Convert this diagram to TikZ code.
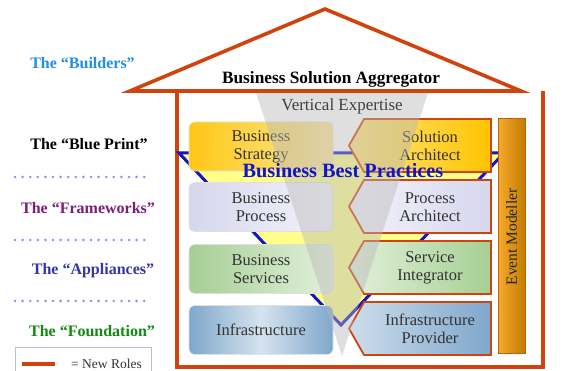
\documentclass[tikz,border=0pt]{standalone}
\usepackage{fontspec}
\setmainfont{Liberation Serif}
\definecolor{hred}{HTML}{D0430F}
\definecolor{bbblue}{HTML}{1414C8}
\definecolor{bbyel}{HTML}{FFFF8A}
\definecolor{dotc}{HTML}{A680F5}
\begin{document}
\begin{tikzpicture}[x=1pt,y=-1pt,
  lbox/.style={rounded corners=6pt, minimum width=144pt, minimum height=49pt, draw=black!12, line width=0.6pt, align=center, font=\fontsize{16.5}{18}\selectfont, text=black!80},
  rbox/.style={draw=hred, line width=1.8pt, line join=miter},
  rtext/.style={align=center, font=\fontsize{16.5}{18}\selectfont, text=black!80},
  side/.style={font=\bfseries\fontsize{16}{19}\selectfont},
  dots/.style={dotc, line width=2.8pt, line cap=round, dash pattern=on 0pt off 7.6pt},
  wall/.style={hred, line width=3.6pt}]
\useasboundingbox (0,0) rectangle (573,371);
% house
\draw[wall, line join=miter] (130,91) coordinate (rl) -- (325,9) coordinate (apex) -- (521,91) coordinate (rr) -- cycle;
\draw[wall] (177,91) coordinate (wl) -- (177,367) coordinate (bl) -- (543,367) coordinate (br) -- (543,91) coordinate (wr);
\node[font=\bfseries\fontsize{17.3}{20}\selectfont] (bsa) at (331,79) {Business Solution Aggregator};
% best practices triangle
\draw[fill=bbyel, draw=bbblue, line width=3pt, line join=miter] (179,153) coordinate (t1) -- (504,153) coordinate (t2) -- (341,325) coordinate (t3) -- cycle;
% left boxes
\node[lbox, left color={rgb,255:red,255;green,200;blue,20}, right color={rgb,255:red,252;green,231;blue,154}] (bstrat) at (261,146.5) {Business\\Strategy};
\node[lbox, left color={rgb,255:red,214;green,214;blue,238}, right color={rgb,255:red,244;green,244;blue,251}] (bproc) at (261,207) {Business\\Process};
\node[lbox, left color={rgb,255:red,166;green,207;blue,148}, right color={rgb,255:red,227;green,240;blue,220}] (bserv) at (261,269) {Business\\Services};
\node[lbox, left color={rgb,255:red,127;green,167;blue,204}, right color={rgb,255:red,127;green,167;blue,204}, middle color={rgb,255:red,213;green,227;blue,238}] (binfra) at (261,330) {Infrastructure};
% right boxes
\path[rbox, left color={rgb,255:red,255;green,230;blue,128}, right color={rgb,255:red,255;green,196;blue,0}] (491,119) -- (364,119) -- (349,145.5) -- (364,172) -- (491,172) -- cycle;
\path[rbox, left color={rgb,255:red,244;green,244;blue,251}, right color={rgb,255:red,214;green,214;blue,238}] (491,180) -- (364,180) -- (349,206.5) -- (364,233) -- (491,233) -- cycle;
\path[rbox, left color={rgb,255:red,226;green,240;blue,218}, right color={rgb,255:red,166;green,207;blue,148}] (491,241) -- (364,241) -- (349,267.5) -- (364,294) -- (491,294) -- cycle;
\path[rbox, left color={rgb,255:red,205;green,222;blue,236}, right color={rgb,255:red,127;green,167;blue,204}] (491,302) -- (364,302) -- (349,328.5) -- (364,355) -- (491,355) -- cycle;
\node[rtext] (sarch) at (430,146) {Solution\\Architect};
\node[rtext] (parch) at (430,207) {Process\\Architect};
\node[rtext] (sint) at (430,268) {Service\\Integrator};
\node[rtext] (iprov) at (430,329) {Infrastructure\\Provider};
% event modeller
\path[draw={rgb,255:red,192;green,96;blue,16}, line width=1pt, left color={rgb,255:red,247;green,170;blue,42}, right color={rgb,255:red,194;green,124;blue,0}] (498,119) rectangle (525,353);
\node[rotate=90, font=\fontsize{15.5}{18}\selectfont, text=black!85] (evm) at (511.5,237) {Event Modeller};
% vertical expertise triangle
\fill[black!28, opacity=0.45] (256,93) coordinate (v1) -- (428,93) coordinate (v2) -- (342,356) coordinate (v3) -- cycle;
\node[font=\fontsize{17}{20}\selectfont, text=black!75] (vexp) at (342,106) {Vertical Expertise};
\node[font=\bfseries\fontsize{20.3}{23}\selectfont, text=bbblue] (bbp) at (343,171) {Business Best Practices};
% side labels
\node[side, text={rgb,255:red,30;green,143;blue,230}] (builders) at (82.5,63) {The “Builders”};
\node[side, text=black] (blueprint) at (89,144) {The “Blue Print”};
\node[side, text={rgb,255:red,122;green,30;blue,122}] (frameworks) at (88,208) {The “Frameworks”};
\node[side, text={rgb,255:red,53;green,53;blue,165}] (appliances) at (93,271) {The “Appliances”};
\node[side, text={rgb,255:red,16;green,138;blue,16}] (foundation) at (92,331) {The “Foundation”};
\coordinate (d1a) at (15,177); \coordinate (d1b) at (147,177);
\coordinate (d2a) at (15,240); \coordinate (d2b) at (147,240);
\coordinate (d3a) at (15,301); \coordinate (d3b) at (147,301);
\draw[dots] (d1a) -- (d1b);
\draw[dots] (d2a) -- (d2b);
\draw[dots] (d3a) -- (d3b);
% legend
\draw[black!25, line width=0.6pt] (15,347) coordinate (lg1) rectangle (151,385) coordinate (lg2);
\coordinate (la) at (22,364); \coordinate (lb) at (55,364);
\draw[hred, line width=3.6pt] (la) -- (lb);
\node[font=\fontsize{13.5}{16}\selectfont, text=black!80] (newroles) at (106.5,364) {= New Roles};
\end{tikzpicture}
\end{document}
